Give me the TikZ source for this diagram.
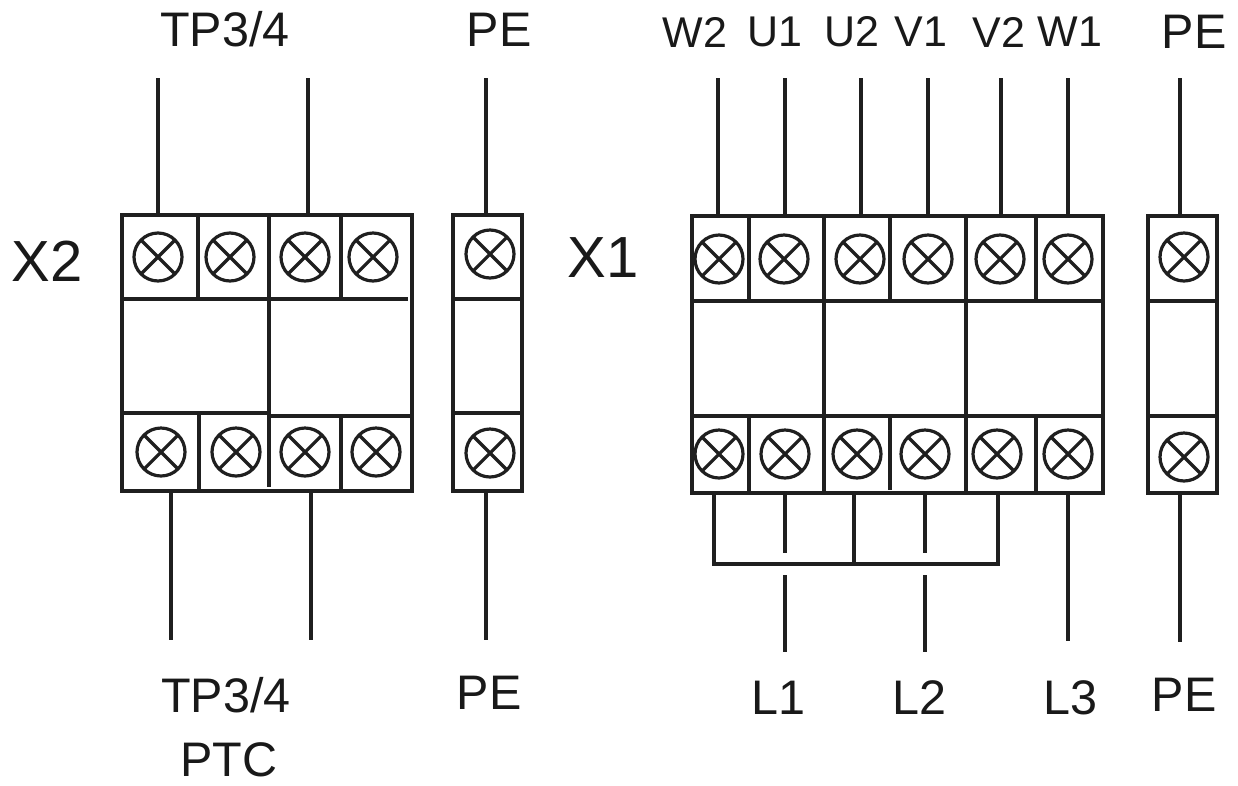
\documentclass[tikz,border=0pt]{standalone}
\usepackage{fontspec}
\setmainfont{Liberation Sans}
\tikzset{
  x=1pt,y=-1pt,
  wire/.style={draw=black!88,line width=3.2pt},
  inner wire/.style={draw=black!88,line width=3.2pt},
  frame/.style={draw=black!88,line width=3.6pt},
  screw/.style={circle,draw=black!88,line width=3.2pt,minimum size=48pt,inner sep=0pt,
    path picture={\draw[black!88,line width=3.2pt]
      ([shift={(-17pt,-17pt)}]path picture bounding box.center) -- ([shift={(17pt,17pt)}]path picture bounding box.center)
      ([shift={(-17pt,17pt)}]path picture bounding box.center) -- ([shift={(17pt,-17pt)}]path picture bounding box.center);}},
  lab/.style={text=black!90,inner sep=0pt,font=\fontsize{48.5}{49}\selectfont},
  midlab/.style={text=black!90,inner sep=0pt,font=\fontsize{43}{43}\selectfont},
  biglab/.style={text=black!90,inner sep=0pt,font=\fontsize{58}{58}\selectfont},
}
\begin{document}
\begin{tikzpicture}
\useasboundingbox (0,0) rectangle (1238,785);
% X2 block
\draw[frame] (122,215) rectangle (412,491);
\draw[inner wire] (122,299) -- (408,299) (122,413) -- (269,413) (269,416) -- (412,416);
\draw[inner wire] (198,215) -- (198,299) (269,215) -- (269,487) (341,215) -- (341,299)
                 (199,413) -- (199,491) (341,416) -- (341,491);
% X2 PE block
\draw[frame] (453,215) rectangle (522,491);
\draw[inner wire] (453,299) -- (522,299) (453,413) -- (522,413);
% X1 block
\draw[frame] (692,216) rectangle (1103,493);
\draw[inner wire] (692,301) -- (1103,301) (692,416) -- (1103,416);
\draw[inner wire] (749,216) -- (749,301) (824,216) -- (824,493) (890,216) -- (890,301)
                 (966,216) -- (966,493) (1036,216) -- (1036,301)
                 (749,416) -- (749,493) (890,416) -- (890,490) (1036,416) -- (1036,493);
% X1 PE block
\draw[frame] (1148,216) rectangle (1217,493);
\draw[inner wire] (1148,301) -- (1217,301) (1148,416) -- (1217,416);
% Terminals
\foreach \n/\px/\py in {a1/158/257,a2/230/257,a3/305/257,a4/373/257,
                        b1/161/452,b2/236/452,b3/305/452,b4/376/452,
                        p1/490/254,p2/490/453,
                        c1/719/259,c2/784/259,c3/860/259,c4/928/259,c5/1000/259,c6/1068/259,
                        d1/719/454,d2/785/454,d3/857/454,d4/925/454,d5/997/454,d6/1068/454,
                        q1/1184/257,q2/1184/457}
  \node[screw] (\n) at (\px,\py) {};
% Wires
\foreach \n/\px/\ya/\yb in {ta1/158/78/215,ta3/308/78/215,tp/486/78/215,
                            ba1/171/491/640,ba3/311/491/640,bp/486/491/640,
                            tc1/718/78/216,tc2/785/78/216,tc3/861/78/216,tc4/928/78/216,tc5/1001/78/216,tc6/1068/78/216,
                            tq/1180/78/216,
                            bd2/785/493/553,bd4/925/493/553,
                            bl1/785/575/652,bl2/925/575/652,
                            bd6/1068/493/641,bq/1180/493/642}{
  \coordinate (\n s) at (\px,\ya);
  \coordinate (\n e) at (\px,\yb);
  \draw[wire] (\n s) -- (\n e);
}
% Bridge
\coordinate (br1) at (714,493); \coordinate (br2) at (854,493); \coordinate (br3) at (998,493);
\coordinate (bus1) at (714,564); \coordinate (bus2) at (854,564); \coordinate (bus3) at (998,564);
\draw[wire,line join=miter] (br1) -- (bus1) -- (bus3) -- (br3);
\draw[wire] (br2) -- (bus2);
% Labels
\node[lab] (l1) at (225,29) {TP3/4};
\node[lab] (l2) at (499,30) {PE};
\node[midlab] (l3) at (695,32) {W2};
\node[midlab] (l4) at (775,32) {U1};
\node[midlab] (l5) at (852,32) {U2};
\node[midlab] (l6) at (921,32) {V1};
\node[midlab] (l7) at (999,32) {V2};
\node[midlab] (l8) at (1070,32) {W1};
\node[lab] (l9) at (1194,32) {PE};
\node[biglab] (x2) at (47,261) {X2};
\node[biglab] (x1) at (603,258) {X1};
\node[lab] (l10) at (226,695) {TP3/4};
\node[lab] (l11) at (229,760) {PTC};
\node[lab] (l12) at (489,693) {PE};
\node[lab] (l13) at (778,698) {L1};
\node[lab] (l14) at (919,698) {L2};
\node[lab] (l15) at (1070,698) {L3};
\node[lab] (l16) at (1184,695) {PE};
\end{tikzpicture}
\end{document}
